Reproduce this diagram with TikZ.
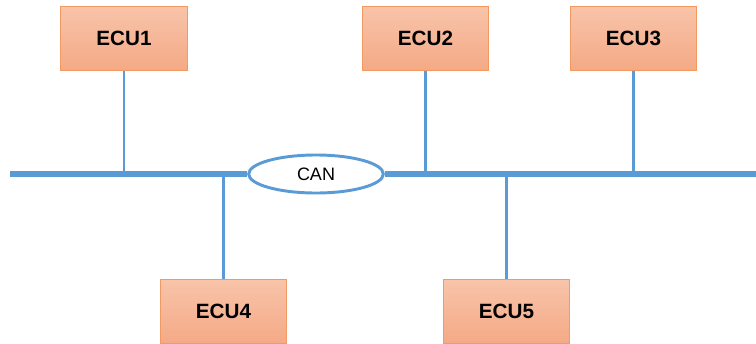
\documentclass[tikz,border=0pt]{standalone}
\usepackage{fontspec}
\setmainfont{Liberation Sans}
\usepackage{tikz}
\usetikzlibrary{shapes.geometric}

\definecolor{busblue}{HTML}{5B9BD5}
\definecolor{ecutop}{HTML}{F8C4AA}
\definecolor{ecubot}{HTML}{F4A985}
\definecolor{ecuedge}{HTML}{F19A62}

\begin{document}
\begin{tikzpicture}[x=0.75pt, y=-0.75pt]
                \tikzset{ecu/.style={draw=ecuedge, line width=0.9pt, top color=ecutop, bottom color=ecubot,
                                     minimum width=95pt, minimum height=48.5pt, inner sep=0pt,
                                     font=\fontsize{15.5}{18}\selectfont\bfseries},
                         bus/.style={draw=busblue, line width=3.9pt},
                         drop/.style={draw=busblue, line width=2.2pt}}

                \useasboundingbox (0,0) rectangle (756,343);

                % BUS ENDS
                \coordinate (busL) at (10,174);
                \coordinate (busR) at (756,174);

                % CAN
                \node[ellipse, draw=busblue, line width=2.2pt, fill=white, minimum width=101pt,
                      minimum height=28.5pt, inner sep=0pt, font=\fontsize{13.5}{16}\selectfont] (can) at (316,174) {CAN};

                % ECUS
                \node[ecu] (ecu1) at (124,38.5) {ECU1};
                \node[ecu] (ecu2) at (425.5,38.5) {ECU2};
                \node[ecu] (ecu3) at (633.5,38.5) {ECU3};
                \node[ecu] (ecu4) at (223.5,311.5) {ECU4};
                \node[ecu] (ecu5) at (506.5,311.5) {ECU5};

                % BUS
                \path[bus]
                    (busL) -- (can.west)
                    (can.east) -- (busR);

                % DROPS
                \path[drop]
                    (ecu1.south) -- (ecu1.south |- busL)
                    (ecu2.south) -- (ecu2.south |- busL)
                    (ecu3.south) -- (ecu3.south |- busL)
                    (ecu4.north) -- (ecu4.north |- busL)
                    (ecu5.north) -- (ecu5.north |- busL);

            \end{tikzpicture}
\end{document}
